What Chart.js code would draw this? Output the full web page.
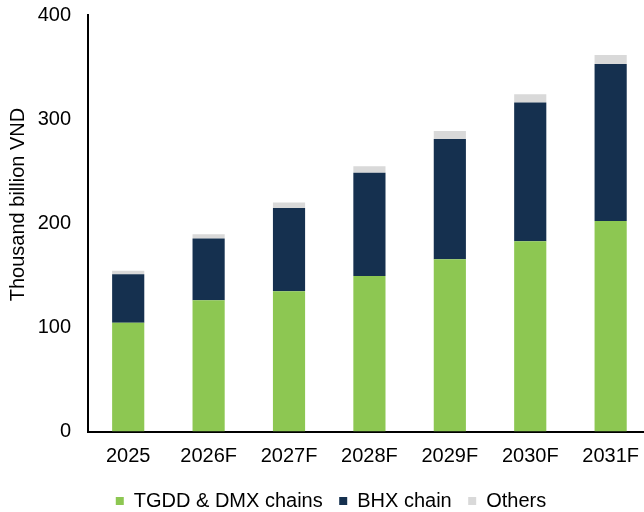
<!DOCTYPE html>
<html lang="en">
<head>
    <meta charset="UTF-8">
    <title>Revenue by chain</title>
    <script src="https://cdn.jsdelivr.net/npm/chart.js"></script>
    <style>
        html, body {
            margin: 0;
            padding: 0;
            width: 644px;
            height: 512px;
            overflow: hidden;
            background: #ffffff;
        }
        .wrap {
            width: 652px;
            height: 512px;
        }
    </style>
</head>
<body>
    <div class="wrap"><canvas id="chart" width="652" height="512"></canvas></div>

    <script>
        // thousand billion VND
        const years = ['2025', '2026F', '2027F', '2028F', '2029F', '2030F', '2031F'];
        const tgddDmx = [104.5, 126, 134.6, 149.3, 165.4, 182.7, 202.2];
        const bhx = [46.5, 59.3, 80.1, 99.1, 115.6, 133.3, 150.7];
        const others = [3.5, 4.1, 5.2, 6.4, 7.5, 8, 8.6];
        const yTicks = [0, 100, 200, 300, 400];
        const yTitle = 'Thousand billion VND';

        const font = { family: "'Liberation Sans', Arial, sans-serif", size: 20 };

        // nudge the legend a bit to the right, like the original
        const legendShift = {
            id: 'legendShift',
            afterLayout(chart) {
                chart.legend.left += 4;
            }
        };

        // the axis title in the original sits a little above the middle of the axis
        const axisTitle = {
            id: 'axisTitle',
            afterDraw(chart) {
                const c = chart.ctx;
                const area = chart.chartArea;
                c.save();
                c.translate(18, area.top + (area.bottom - area.top) * 0.455);
                c.rotate(-Math.PI / 2);
                c.font = '20px ' + font.family;
                c.fillStyle = '#000';
                c.textAlign = 'center';
                c.textBaseline = 'middle';
                c.fillText(yTitle, 0, 0);
                c.restore();
            }
        };

        const ctx = document.getElementById('chart').getContext('2d');
        const chart = new Chart(ctx, {
            type: 'bar',
            data: {
                labels: years,
                datasets: [
                    { label: 'TGDD & DMX chains', data: tgddDmx, backgroundColor: '#8DC752' },
                    { label: 'BHX chain', data: bhx, backgroundColor: '#15304F' },
                    { label: 'Others', data: others, backgroundColor: '#D9D9D9' }
                ]
            },
            plugins: [legendShift, axisTitle],
            options: {
                responsive: false,
                animation: false,
                layout: { padding: { top: 0, left: 6, right: 0, bottom: -9 } },
                datasets: {
                    bar: { barPercentage: 0.4, categoryPercentage: 1, borderWidth: 0 }
                },
                plugins: {
                    legend: {
                        position: 'bottom',
                        labels: {
                            font: font,
                            color: '#000',
                            boxWidth: 8,
                            boxHeight: 8,
                            padding: 16.5
                        }
                    },
                    tooltip: { enabled: false }
                },
                scales: {
                    x: {
                        stacked: true,
                        grid: { display: false, drawTicks: false },
                        border: { color: '#000', width: 2 },
                        ticks: { font: font, color: '#000', padding: 13, maxRotation: 0 },
                        afterFit: axis => { axis.height = 43; }
                    },
                    y: {
                        stacked: true,
                        min: 0,
                        max: 400,
                        afterBuildTicks: axis => { axis.ticks = yTicks.map(v => ({ value: v })); },
                        grid: { display: false, drawTicks: false },
                        border: { color: '#000', width: 2 },
                        ticks: { font: font, color: '#000', padding: 17 },
                        afterFit: axis => {
                            axis.width = 82;
                            axis.paddingTop = 15;
                            axis.paddingBottom = 0;
                        }
                    }
                }
            }
        });
    </script>
</body>
</html>
